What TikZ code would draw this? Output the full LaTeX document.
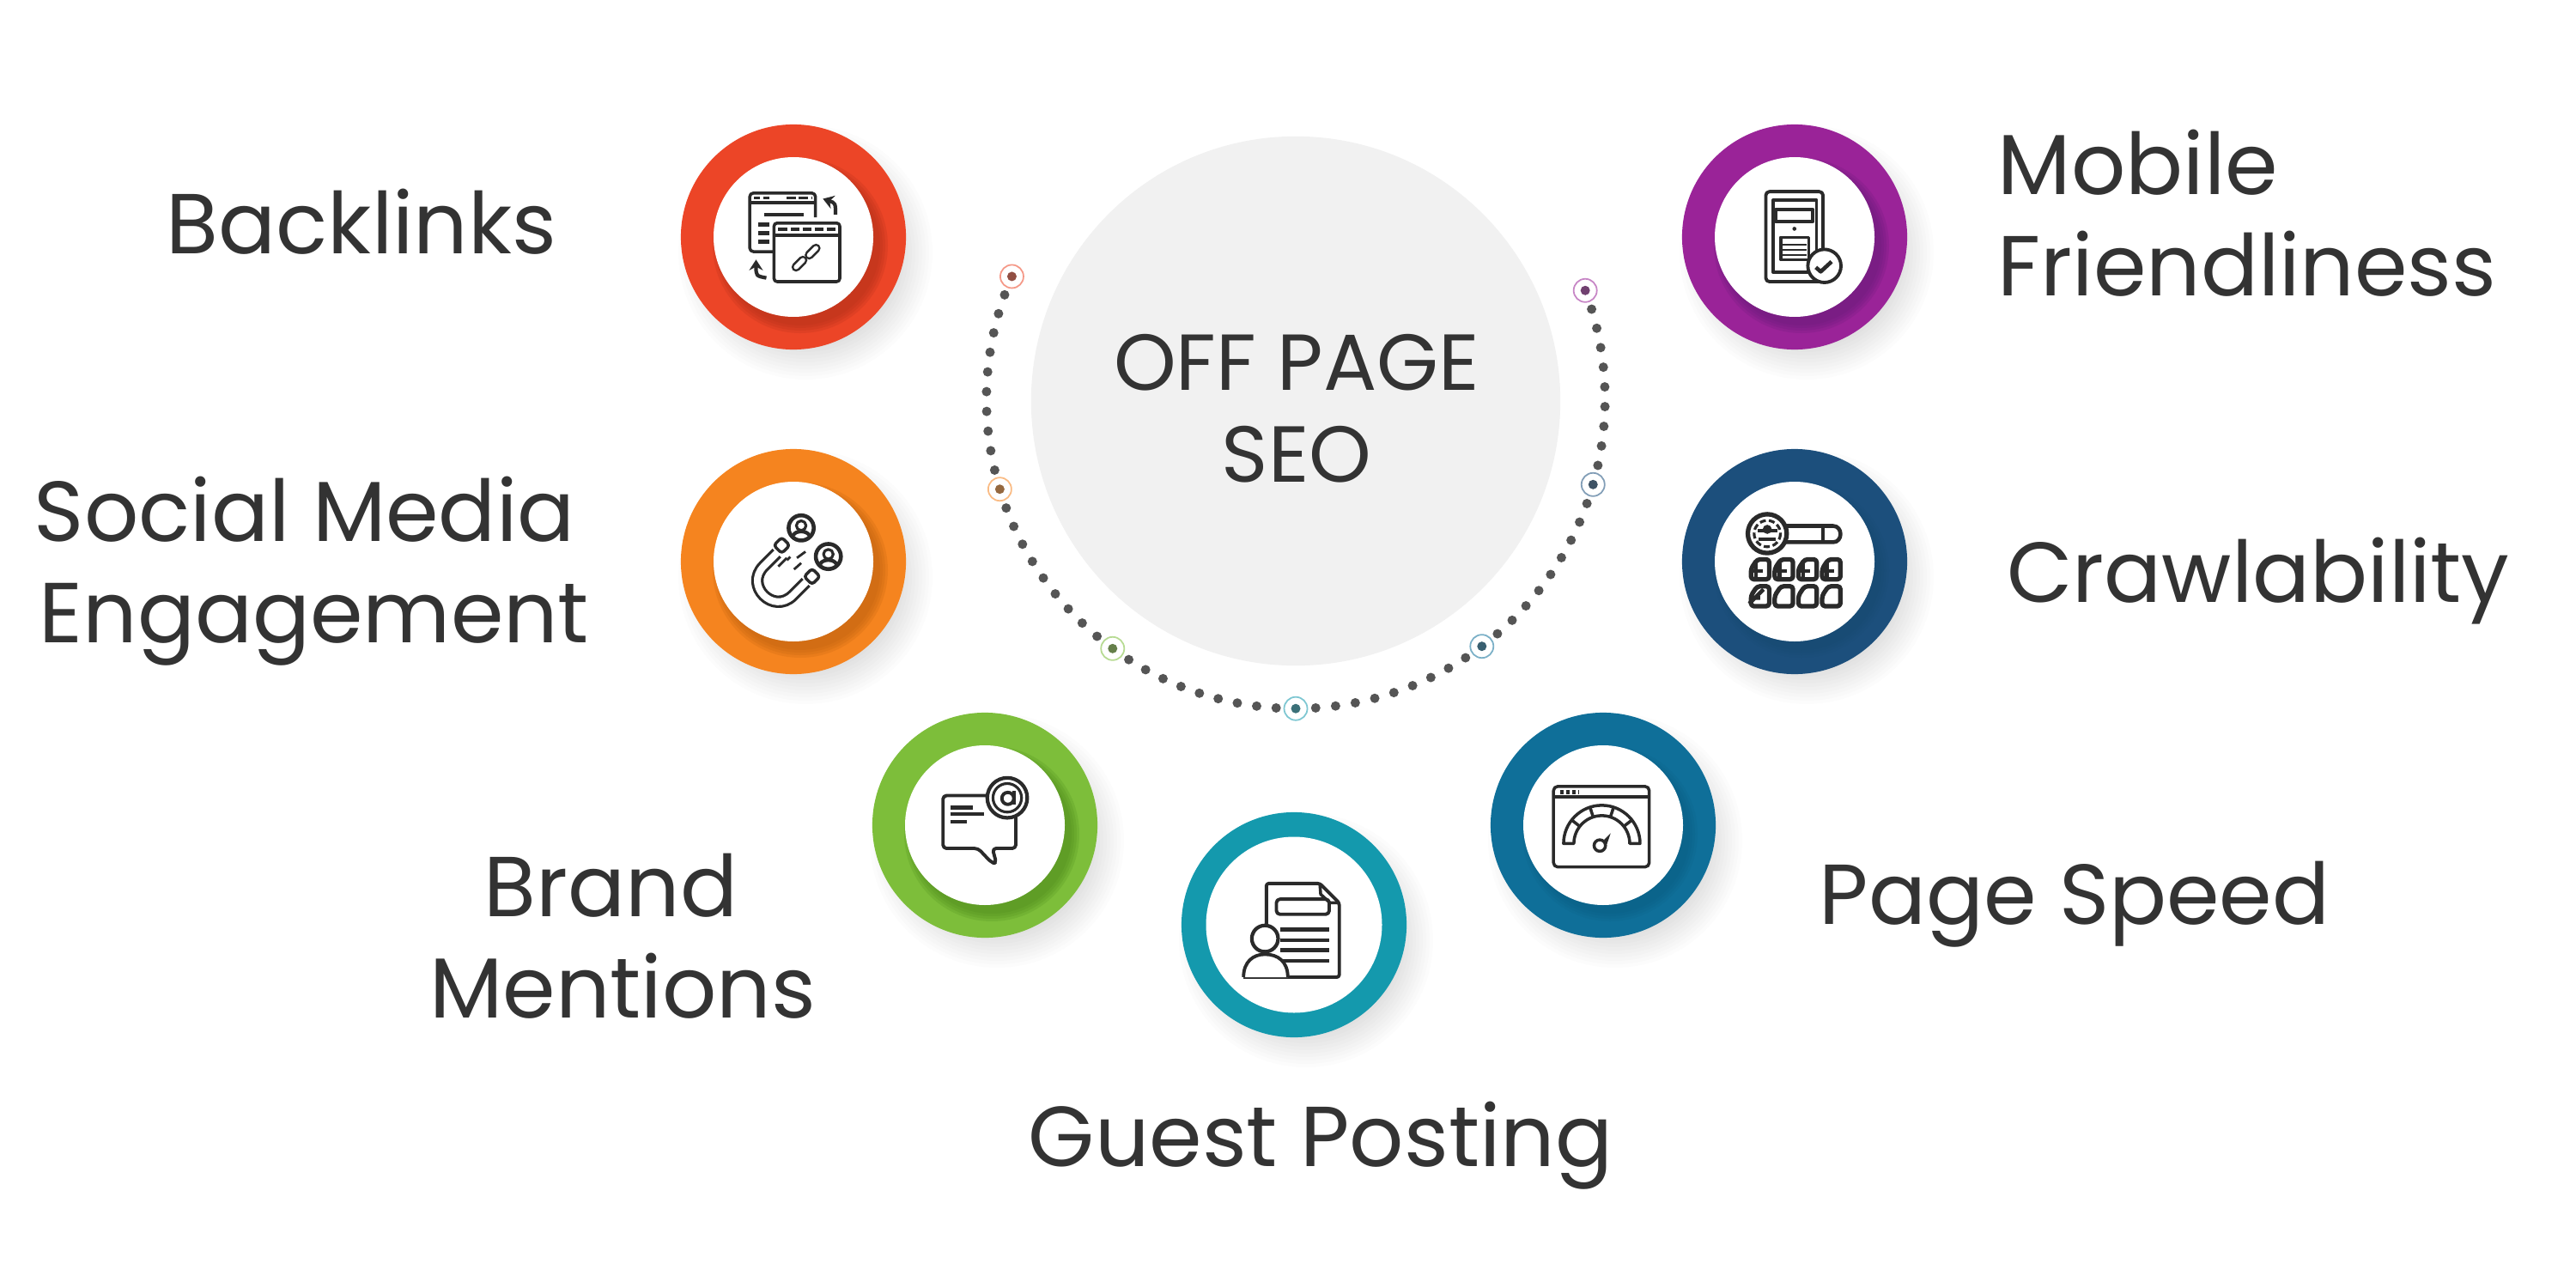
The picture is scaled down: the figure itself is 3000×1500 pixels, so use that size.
\documentclass[tikz,border=0pt]{standalone}
\usepackage{fontspec}
\setmainfont{Poppins}
\usetikzlibrary{calc,arrows.meta}
\definecolor{iconc}{HTML}{2A2A2A}
\definecolor{textc}{HTML}{333333}
\definecolor{dotc}{HTML}{555555}
\definecolor{cRed}{HTML}{EC4527}\definecolor{dRed}{HTML}{B5301A}
\definecolor{cOra}{HTML}{F5841F}\definecolor{dOra}{HTML}{C0630F}
\definecolor{cGre}{HTML}{7DBE3A}\definecolor{dGre}{HTML}{4F8C1C}
\definecolor{cTea}{HTML}{1499AD}\definecolor{dTea}{HTML}{0F8294}
\definecolor{cBlu}{HTML}{0F6F99}\definecolor{dBlu}{HTML}{0B5577}
\definecolor{cNav}{HTML}{1C4F7C}\definecolor{dNav}{HTML}{173F63}
\definecolor{cPur}{HTML}{9A2398}\definecolor{dPur}{HTML}{661A78}
\tikzset{
  disc/.style={circle,minimum size=2.62cm,inner sep=0pt,fill=#1},
  hole/.style={circle,minimum size=#1,inner sep=0pt,fill=white},
  label/.style={font=\fontsize{28.2}{33.5}\selectfont,text=textc,inner sep=0pt},
  orbmark/.style={circle,minimum size=0.27cm,inner sep=0pt,fill=white,draw=#1!55!white,line width=0.5pt},
  orbdot/.style={circle,minimum size=0.11cm,inner sep=0pt,fill=#1!40!dotc},
  iconarea/.style={shift={(#1)},x=0.0033333cm,y=-0.0033333cm,color=iconc,line width=1pt,line join=round},
}
% name, x, y, colour, dark colour, opacity of crescent, hole diameter
\newcommand\badge[7]{%
  \foreach \s in {100,104,...,150}{\fill[black,opacity=0.011] (#2+14,#3+18) circle[radius=\s];}
  \node[disc=#4] (#1) at (#2,#3) {};
  \foreach \s in {0,3,6,9}{\fill[#5,opacity=#6] (#2+8,#3+10) circle[radius=#7*0.5+\s];}
  \node[hole=#7*0.01cm] (#1in) at (#2,#3) {};
}
\begin{document}
\begin{tikzpicture}[x=0.01cm,y=-0.01cm]
\useasboundingbox (0,0) rectangle (3000,1500);
\fill[white] (0,0) rectangle (3000,1500);

% centre
\node[circle,minimum size=6.16cm,inner sep=0pt,fill=black!5.5] (hub) at (1509,467) {};
\node[font=\fontsize{26.3}{30.4}\selectfont,text=textc,align=center,inner sep=0pt] (hubtext) at (1510,476) {OFF PAGE\\SEO};

% dotted orbit
\coordinate (orbit) at (1509,465);
\foreach \a/\b/\n/\m in {156.6/196.9/11/10,196.9/233.7/10/9,233.7/270/10/9,270/307/10/9,307/344/10/9,344/380.6/10/9}{
  \foreach \i in {1,...,\m}{
    \pgfmathsetmacro\t{\a+(\b-\a)*\i/\n}
    \fill[dotc] ($(orbit)+(\t:3.6cm)$) circle[radius=5.5];
  }
}
\foreach \nm/\ang/\col in {ma/156.6/cRed,mb/196.9/cOra,mc/233.7/cGre,md/270/cTea,me/307/cBlu,mf/344/cNav,mg/20.6/cPur}{
  \node[orbmark=\col] (\nm) at ($(orbit)+(\ang:3.6cm)$) {};
  \node[orbdot=\col] at (\nm) {};
}

% badges
\badge{backlinks}{924}{276}{cRed}{dRed}{0.22}{186}
\badge{mobile}{2090}{276}{cPur}{dPur}{0.2}{186}
\badge{social}{924}{654}{cOra}{dOra}{0.22}{186}
\badge{crawl}{2090}{654}{cNav}{dNav}{0.06}{186}
\badge{brand}{1147}{961}{cGre}{dGre}{0.22}{186}
\badge{guest}{1507}{1077}{cTea}{dTea}{0.0}{205}
\badge{speed}{1867}{961}{cBlu}{dBlu}{0.1}{186}

% --- Backlinks icon
\begin{scope}[iconarea={760,120}]
  \draw[rounded corners=1.2pt] (570,400)--(570,315)--(340,315)--(340,520)--(425,520);
  \draw (340,348)--(570,348);
  \draw[line width=1.1pt,dash pattern=on 2pt off 1pt] (355,332)--(410,332);
  \draw[line width=1.1pt,dash pattern=on 3pt off 1pt] (470,332)--(555,332);
  \draw[line width=1.2pt] (390,390)--(530,390);
  \foreach \yy in {425,455,485} \draw[line width=1.2pt] (370,\yy)--(410,\yy);
  \draw[fill=white,rounded corners=1pt] (425,420) rectangle (655,625);
  \draw (425,462)--(655,462);
  \draw[line width=1.1pt,dash pattern=on 3pt off 1pt] (440,441)--(640,441);
  \foreach \pa/\pb/\qa/\qb in {548/532/572/508,502/574/526/550}{
    \draw[line width=3pt,line cap=round] (\pa,\pb)--(\qa,\qb);
    \draw[white,line width=1.5pt,line cap=round] (\pa,\pb)--(\qa,\qb);
  }
  \draw[line width=1.2pt,-{Stealth[length=3.5pt,width=4.5pt]}] (640,390) .. controls (640,350) .. (596,335);
  \draw[line width=1.2pt,-{Stealth[length=3.5pt,width=4.5pt]}] (398,612) .. controls (362,605) .. (362,548);
\end{scope}

% --- Mobile icon
\begin{scope}[iconarea={1930,120}]
  \draw[rounded corners=1.2pt,line width=1.1pt] (380,310) rectangle (580,625);
  \draw (405,340) rectangle (558,592);
  \draw[line width=1.1pt] (415,372) rectangle (545,415);
  \fill (480,440) circle[radius=7];
  \draw (432,470) rectangle (530,548);
  \foreach \yy in {495,515,532} \draw[line width=0.6pt] (440,\yy)--(522,\yy);
  \draw[fill=white,line width=1.1pt] (585,570) circle[radius=58];
  \draw[line width=1.3pt] (555,575)--(572,590)--(610,555);
\end{scope}

% --- Magnet icon
\begin{scope}[iconarea={760,500}]
  \draw[line width=4.1pt] (435,433)--(389,479) .. controls (321,547) and (423,649) .. (491,581)--(537,535);
  \draw[white,line width=2.3pt] (437,431)--(389,479) .. controls (321,547) and (423,649) .. (491,581)--(539,533);
  \draw[fill=white,rounded corners=1pt] (452,378)--(480,406)--(452,434)--(424,406)--cycle;
  \draw[fill=white,rounded corners=1pt] (558,487)--(586,515)--(558,543)--(530,515)--cycle;
  \foreach \pa/\pb/\qa/\qb in {440/480/470/450,495/490/520/468,505/450/535/428,470/458/482/446} \draw[line width=0.8pt] (\pa,\pb)--(\qa,\qb);
  \foreach \cx/\cy in {520/345,615/445}{
    \draw[line width=1.3pt,fill=white] (\cx,\cy) circle[radius=44];
    \draw[line width=0.9pt] (\cx,\cy-8) circle[radius=17];
    \draw[line width=1.2pt] (\cx-28,\cy+26) .. controls (\cx-20,\cy+8) and (\cx+20,\cy+8) .. (\cx+28,\cy+26);
  }
\end{scope}

% --- Crawl icon
\begin{scope}[iconarea={1930,500}]
  \draw[line width=1.3pt] (450,338)--(615,338) .. controls (650,338) and (650,395) .. (615,395)--(450,395);
  \draw[line width=1.1pt] (580,338)--(580,395);
  \draw[line width=1.5pt,fill=white] (385,365) circle[radius=68];
  \draw[line width=0.9pt,dash pattern=on 2pt off 1pt] (385,365) circle[radius=46];
  \fill (385,350) circle[radius=16];
  \draw[line width=1pt] (350,355)--(420,355) (355,385)--(415,385);
  \foreach \xx in {320,403,486,569}{
    \foreach \yy/\hh in {452/78,546/78}{
      \draw[line width=1.5pt,rounded corners=1pt] (\xx+8,\yy+\hh-5)--(\xx+72,\yy+\hh-5)--(\xx+72,\yy+3)--(\xx+30,\yy+3)--(\xx+8,\yy+36)--cycle;
    }
    \draw[line width=1.3pt] (\xx+2,496)--(\xx+50,496) (\xx+25,470)--(\xx+25,520);
  }
  \draw[line width=1.3pt] (322,590)--(360,590) (322,610)--(372,560);
\end{scope}

% --- Brand icon
\begin{scope}[iconarea={1000,810}]
  \draw[fill=white,rounded corners=1.2pt,line width=1.1pt] (295,350)--(550,350)--(550,535)--(468,535)--(482,587)--(465,585)--(418,535)--(295,535)--cycle;
  \draw[line width=1.2pt] (320,392)--(400,392) (320,415)--(440,415) (320,442)--(380,442);
  \draw[fill=white,line width=1.2pt] (520,358) circle[radius=70];
  \draw[line width=0.9pt] (520,358) circle[radius=50];
  \draw[line width=1.1pt] (522,360) circle[radius=21];
  \draw[line width=1.1pt] (545,335)--(545,382);
\end{scope}

% --- Guest icon
\begin{scope}[iconarea={1360,930}]
  \draw[rounded corners=0.8pt,line width=1.1pt] (345,440)--(345,297)--(532,297)--(600,365)--(600,625)--(265,625);
  \draw[line width=1pt] (532,297)--(535,335)--(568,365)--(600,365);
  \draw[rounded corners=1.2pt,line width=1.1pt] (380,352) rectangle (565,405);
  \foreach \yy in {458,495,530,567} \draw[line width=1.2pt] (395,\yy)--(565,\yy);
  \draw[fill=white,line width=1.1pt] (265,625) .. controls (265,570) and (300,545) .. (340,545) .. controls (385,545) and (420,570) .. (420,625);
  \draw[fill=white,line width=1.2pt] (340,490) circle[radius=46];
\end{scope}

% --- Speed icon
\begin{scope}[iconarea={1720,810}]
  \draw[rounded corners=1.4pt] (268,318) rectangle (603,600);
  \draw (268,355)--(603,355);
  \draw[line width=1.2pt,dash pattern=on 1.2pt off 0.8pt] (290,338)--(358,338);
  \begin{scope}[shift={(437,518)},x=1cm,y=1cm]
    \draw (180:0.445) arc[start angle=180,end angle=0,radius=0.445]--(0:0.325) arc[start angle=0,end angle=180,radius=0.325]--cycle;
    \foreach \ang in {142,108,72,38}{
      \draw (\ang:0.325)--(\ang:0.445);
    }
  \end{scope}
  \draw (430,525) circle[radius=20];
  \fill (445,505)--(468,482)--(455,520)--cycle;
\end{scope}

% labels
\node[label] (tBack) at (421,258) {Backlinks};
\node[label,align=left] (tSocial) at (363,665) {Social Media\\\hspace*{0.06cm}Engagement};
\node[label,align=left,anchor=west] (tMobile) at (2326,248) {Mobile\\Friendliness};
\node[label] (tCrawl) at (2630,677) {Crawlability};
\node[label,align=center] (tBrand) at (725,1090) {Brand\hspace*{0.27cm}\\Mentions};
\node[label] (tSpeed) at (2416,1053) {Page Speed};
\node[label] (tGuest) at (1538,1334) {Guest Posting};
\end{tikzpicture}
\end{document}
